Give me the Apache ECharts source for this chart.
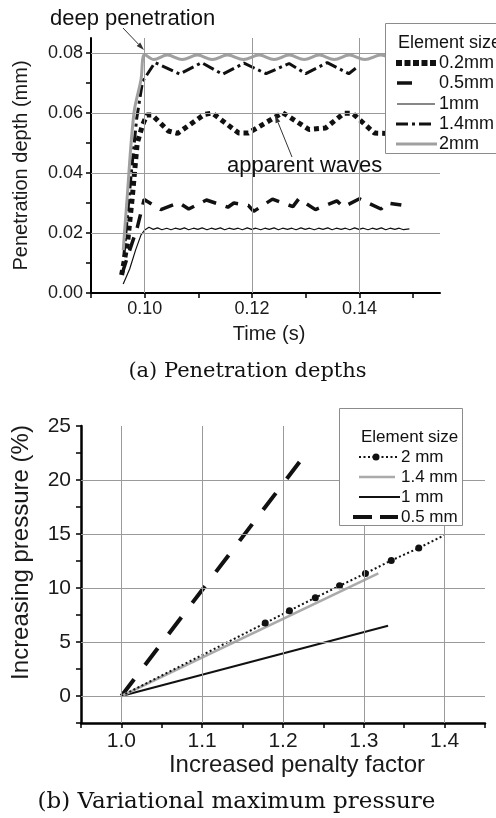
<!DOCTYPE html>
<html>
<head>
<meta charset="utf-8">
<script src="https://cdn.jsdelivr.net/npm/echarts@6/dist/echarts.min.js"></script>
<style>
  html, body { margin: 0; padding: 0; background: #fff; }
  #chart { width: 496px; height: 818px; }
</style>
</head>
<body>
<div id="chart"></div>
<script>
// ---------- (a) penetration depth (mm) against time (s) ----------
const timeTicks = [0.09, 0.10, 0.11, 0.12, 0.13, 0.14, 0.15];
const timeLabels = [0.10, 0.12, 0.14];
const depthTicks = [0, 0.01, 0.02, 0.03, 0.04, 0.05, 0.06, 0.07, 0.08];
const depthLabels = [0, 0.02, 0.04, 0.06, 0.08];

const depth02mm = [
  [0.0957, 0.0060], [0.0968, 0.0166], [0.0977, 0.0321], [0.0986, 0.0499], [0.0996, 0.0560],
  [0.1004, 0.0593], [0.1014, 0.0593], [0.1044, 0.0540], [0.1061, 0.0532], [0.1111, 0.0595],
  [0.1126, 0.0600], [0.1175, 0.0533], [0.1193, 0.0533], [0.1257, 0.0601], [0.1306, 0.0545],
  [0.1337, 0.0550], [0.1371, 0.0599], [0.1387, 0.0599], [0.1428, 0.0533], [0.1490, 0.0530]
];
const depth05mm = [
  [0.0958, 0.0065], [0.0968, 0.0121], [0.0986, 0.0217], [0.0999, 0.0312], [0.1030, 0.0278],
  [0.1064, 0.0301], [0.1082, 0.0280], [0.1115, 0.0310], [0.1155, 0.0286], [0.1166, 0.0300],
  [0.1193, 0.0292], [0.1203, 0.0272], [0.1238, 0.0313], [0.1276, 0.0288], [0.1287, 0.0314],
  [0.1318, 0.0278], [0.1358, 0.0307], [0.1370, 0.0287], [0.1400, 0.0314], [0.1440, 0.0280],
  [0.1452, 0.0300], [0.1478, 0.0293]
];
const depth1mm = [
  [0.0960, 0.0030], [0.0972, 0.0080], [0.0983, 0.0143], [0.0993, 0.0193], [0.1000, 0.0210],
  [0.1008, 0.0219], [0.1016, 0.0212], [0.1024, 0.0217], [0.1032, 0.0211], [0.1041, 0.0216],
  [0.1049, 0.0211], [0.1057, 0.0216], [0.1066, 0.0212], [0.1074, 0.0217], [0.1082, 0.0211],
  [0.1091, 0.0216], [0.1099, 0.0212], [0.1107, 0.0217], [0.1116, 0.0211], [0.1124, 0.0216],
  [0.1132, 0.0212], [0.1141, 0.0217], [0.1149, 0.0211], [0.1157, 0.0216], [0.1166, 0.0212],
  [0.1174, 0.0216], [0.1182, 0.0211], [0.1191, 0.0217], [0.1199, 0.0212], [0.1207, 0.0216],
  [0.1216, 0.0211], [0.1224, 0.0216], [0.1232, 0.0212], [0.1241, 0.0217], [0.1249, 0.0211],
  [0.1257, 0.0216], [0.1266, 0.0212], [0.1274, 0.0216], [0.1282, 0.0211], [0.1291, 0.0217],
  [0.1299, 0.0212], [0.1307, 0.0216], [0.1316, 0.0211], [0.1324, 0.0216], [0.1332, 0.0212],
  [0.1341, 0.0217], [0.1349, 0.0211], [0.1357, 0.0216], [0.1366, 0.0212], [0.1374, 0.0216],
  [0.1382, 0.0211], [0.1391, 0.0217], [0.1399, 0.0212], [0.1407, 0.0216], [0.1416, 0.0211],
  [0.1424, 0.0216], [0.1432, 0.0212], [0.1441, 0.0217], [0.1449, 0.0211], [0.1457, 0.0216],
  [0.1466, 0.0212], [0.1474, 0.0216], [0.1482, 0.0211], [0.1493, 0.0214]
];
const depth14mm = [
  [0.0961, 0.0120], [0.0975, 0.0400], [0.0985, 0.0580], [0.0996, 0.0705], [0.1019, 0.0768],
  [0.1065, 0.0730], [0.1106, 0.0768], [0.1145, 0.0729], [0.1185, 0.0766], [0.1226, 0.0731],
  [0.1269, 0.0765], [0.1300, 0.0731], [0.1340, 0.0768], [0.1380, 0.0731], [0.1393, 0.0749]
];
const depth2mm = [
  [0.0960, 0.0143], [0.0967, 0.0310], [0.0980, 0.0600], [0.0993, 0.0710], [0.1000, 0.0795],
  [0.1017, 0.0778], [0.1042, 0.0793], [0.1070, 0.0778], [0.1098, 0.0793], [0.1126, 0.0778],
  [0.1154, 0.0793], [0.1184, 0.0778], [0.1213, 0.0793], [0.1241, 0.0778], [0.1269, 0.0793],
  [0.1297, 0.0778], [0.1325, 0.0793], [0.1353, 0.0778], [0.1381, 0.0793], [0.1410, 0.0778],
  [0.1440, 0.0793], [0.1468, 0.0778], [0.1490, 0.0790]
];

// ---------- (b) increasing pressure (%) against penalty factor ----------
const factorTicks = [0.95, 1.0, 1.05, 1.1, 1.15, 1.2, 1.25, 1.3, 1.35, 1.4, 1.45];
const factorLabels = [1.0, 1.1, 1.2, 1.3, 1.4];
const pressureTicks = [-2.5, 0, 2.5, 5, 7.5, 10, 12.5, 15, 17.5, 20, 22.5, 25];
const pressureLabels = [0, 5, 10, 15, 20, 25];

const factor2mm = [1.0, 1.178, 1.208, 1.240, 1.270, 1.302, 1.334, 1.368, 1.400];
const pressure2mm = [0, 6.75, 7.9, 9.1, 10.2, 11.35, 12.55, 13.7, 14.9];
const factor14mm = [1.0, 1.318];
const pressure14mm = [0, 11.35];
const factor1mm = [1.0, 1.330];
const pressure1mm = [0, 6.5];
const factor05mm = [1.0, 1.230];
const pressure05mm = [0, 22.6];

const FONT = '"Liberation Sans", Arial, sans-serif';
const SERIF = '"DejaVu Serif", serif';
const INK = '#111';
const GRID = '#9a9a9a';

const zip = (xs, ys) => xs.map((x, i) => [x, ys[i]]);

// gridlines only at the labelled values, as in the figure
function gridLines(idx, xs, ys) {
  return {
    type: 'line', xAxisIndex: idx, yAxisIndex: idx, data: [], z: 1, silent: true,
    markLine: {
      silent: true, symbol: 'none', animation: false,
      label: { show: false },
      lineStyle: { color: GRID, width: 1, type: 'solid' },
      emphasis: { disabled: true },
      data: xs.map(v => ({ xAxis: v })).concat(ys.map(v => ({ yAxis: v })))
    }
  };
}

function axisBase(width) {
  return {
    type: 'value',
    axisLine: { onZero: false, lineStyle: { color: '#000', width: width } },
    splitLine: { show: false }
  };
}

function arrow(x1, y1, x2, y2) {
  const dx = x2 - x1, dy = y2 - y1;
  const len = Math.sqrt(dx * dx + dy * dy);
  const ux = dx / len, uy = dy / len;
  const bx = x2 - ux * 8, by = y2 - uy * 8;
  return [
    { type: 'line', z: 50, shape: { x1: x1, y1: y1, x2: bx, y2: by }, style: { stroke: '#333', lineWidth: 1 } },
    { type: 'polygon', z: 50, shape: { points: [[x2, y2], [bx - uy * 2.5, by + ux * 2.5], [bx + uy * 2.5, by - ux * 2.5]] }, style: { fill: '#333' } }
  ];
}

function txt(text, x, y, size, opts) {
  return Object.assign({
    type: 'text', z: 101, x: x, y: y,
    style: {
      text: text, font: size + 'px ' + FONT, fill: INK,
      align: 'left', verticalAlign: 'middle', textAlign: 'left', textVerticalAlign: 'middle'
    }
  }, opts || {});
}

function sample(x1, x2, y, style) {
  return { type: 'line', z: 101, shape: { x1: x1, y1: y, x2: x2, y2: y }, style: style };
}

const chart = echarts.init(document.getElementById('chart'), null, { renderer: 'canvas' });

const option = {
  animation: false,
  backgroundColor: '#fff',
  grid: [
    { left: 91, top: 38, width: 349, height: 255 },
    { left: 81, top: 426, width: 404, height: 297 }
  ],
  xAxis: [
    Object.assign(axisBase(2), {
      gridIndex: 0, min: 0.09, max: 0.155,
      axisTick: { customValues: timeTicks, length: 5, lineStyle: { color: '#000', width: 1.5 } },
      axisLabel: { customValues: timeLabels, formatter: v => v.toFixed(2), fontSize: 18, fontFamily: FONT, color: '#1a1a1a', margin: 7 },
      name: 'Time (s)', nameLocation: 'middle', nameGap: 31,
      nameTextStyle: { fontSize: 20, fontFamily: FONT, color: '#1a1a1a', padding: [0, 0, 0, 7] }
    }),
    Object.assign(axisBase(2.5), {
      gridIndex: 1, min: 0.95, max: 1.45,
      axisTick: { customValues: factorTicks, length: 5, lineStyle: { color: '#000', width: 1.5 } },
      axisLabel: { customValues: factorLabels, formatter: v => v.toFixed(1), fontSize: 21, fontFamily: FONT, color: '#1a1a1a', margin: 8 },
      name: 'Increased penalty factor', nameLocation: 'middle', nameGap: 30,
      nameTextStyle: { fontSize: 24, fontFamily: FONT, color: '#1a1a1a', padding: [0, 0, 0, 28] }
    })
  ],
  yAxis: [
    Object.assign(axisBase(2), {
      gridIndex: 0, min: 0, max: 0.085,
      axisTick: { customValues: depthTicks, length: 5, lineStyle: { color: '#000', width: 1.5 } },
      axisLabel: { customValues: depthLabels, formatter: v => v.toFixed(2), fontSize: 18, fontFamily: FONT, color: '#1a1a1a', margin: 8 },
      name: 'Penetration depth (mm)', nameLocation: 'middle', nameGap: 60,
      nameTextStyle: { fontSize: 20, fontFamily: FONT, color: '#1a1a1a' }
    }),
    Object.assign(axisBase(2.5), {
      gridIndex: 1, min: -2.5, max: 25,
      axisTick: { customValues: pressureTicks, length: 5, lineStyle: { color: '#000', width: 1.5 } },
      axisLabel: { customValues: pressureLabels, formatter: v => String(v), fontSize: 21, fontFamily: FONT, color: '#1a1a1a', margin: 10 },
      name: 'Increasing pressure (%)', nameLocation: 'middle', nameGap: 48,
      nameTextStyle: { fontSize: 24, fontFamily: FONT, color: '#1a1a1a', padding: [0, 0, 0, 44] }
    })
  ],
  series: [
    gridLines(0, timeLabels, [0.02, 0.04, 0.06, 0.08]),
    { name: '0.2mm', type: 'line', xAxisIndex: 0, yAxisIndex: 0, data: depth02mm, symbol: 'none', z: 3,
      lineStyle: { color: INK, width: 5, type: [5, 4] } },
    { name: '0.5mm', type: 'line', xAxisIndex: 0, yAxisIndex: 0, data: depth05mm, symbol: 'none', z: 3,
      lineStyle: { color: INK, width: 3.5, type: [14, 10] } },
    { name: '1mm', type: 'line', xAxisIndex: 0, yAxisIndex: 0, data: depth1mm, symbol: 'none', z: 3,
      lineStyle: { color: INK, width: 1.2 } },
    { name: '1.4mm', type: 'line', xAxisIndex: 0, yAxisIndex: 0, data: depth14mm, symbol: 'none', z: 3,
      lineStyle: { color: INK, width: 3, type: [12, 4, 3, 4] } },
    { name: '2mm', type: 'line', xAxisIndex: 0, yAxisIndex: 0, data: depth2mm, symbol: 'none', z: 4, smooth: 0.35,
      lineStyle: { color: '#a0a0a0', width: 3 } },

    gridLines(1, factorLabels, [0, 5, 10, 15, 20]),
    { name: '0.5 mm', type: 'line', xAxisIndex: 1, yAxisIndex: 1, data: zip(factor05mm, pressure05mm), symbol: 'none', z: 3,
      lineStyle: { color: INK, width: 4, type: [21, 18] } },
    { name: '1 mm', type: 'line', xAxisIndex: 1, yAxisIndex: 1, data: zip(factor1mm, pressure1mm), symbol: 'none', z: 3,
      lineStyle: { color: INK, width: 2 } },
    { name: '1.4 mm', type: 'line', xAxisIndex: 1, yAxisIndex: 1, data: zip(factor14mm, pressure14mm), symbol: 'none', z: 3,
      lineStyle: { color: '#aaaaaa', width: 2.5 } },
    { name: '2 mm', type: 'line', xAxisIndex: 1, yAxisIndex: 1, z: 4,
      data: factor2mm.map((x, i) => ({
        value: [x, pressure2mm[i]],
        symbol: (i === 0 || i === factor2mm.length - 1) ? 'none' : 'circle'
      })),
      symbol: 'circle', symbolSize: 7, showSymbol: true,
      itemStyle: { color: INK },
      lineStyle: { color: INK, width: 2, type: [2, 2.5] } }
  ],
  graphic: [
    // legend (a)
    { type: 'rect', z: 100, shape: { x: 385.5, y: 23.5, width: 130, height: 130 },
      style: { fill: '#fff', stroke: '#8c8c8c', lineWidth: 1 } },
    txt('Element size', 398, 43, 18),
    sample(396, 437, 63, { stroke: INK, lineWidth: 6, lineDash: [6, 2.5] }),
    txt('0.2mm', 439, 63, 18),
    sample(397, 412, 83, { stroke: INK, lineWidth: 3.5 }),
    txt('0.5mm', 439, 83, 18),
    sample(397, 435, 104, { stroke: INK, lineWidth: 1.2 }),
    txt('1mm', 439, 104, 18),
    sample(396, 432, 124, { stroke: INK, lineWidth: 3, lineDash: [12, 4, 3, 4] }),
    txt('1.4mm', 439, 124, 18),
    sample(396, 437, 144, { stroke: '#a0a0a0', lineWidth: 3 }),
    txt('2mm', 439, 144, 18),

    // legend (b)
    { type: 'rect', z: 100, shape: { x: 339.5, y: 408.5, width: 123, height: 117 },
      style: { fill: '#fff', stroke: '#8c8c8c', lineWidth: 1 } },
    txt('Element size', 361, 437, 17),
    sample(359, 397, 457, { stroke: INK, lineWidth: 2, lineDash: [2, 2.5] }),
    { type: 'circle', z: 102, shape: { cx: 376, cy: 457, r: 3.5 }, style: { fill: INK } },
    txt('2 mm', 401, 457, 17),
    sample(359, 395, 477, { stroke: '#aaaaaa', lineWidth: 2.5 }),
    txt('1.4 mm', 401, 477, 17),
    sample(359, 400, 497, { stroke: INK, lineWidth: 2 }),
    txt('1 mm', 401, 497, 17),
    sample(353, 398, 517, { stroke: INK, lineWidth: 4, lineDash: [19, 8] }),
    txt('0.5 mm', 401, 517, 17),

    // annotations
    txt('deep penetration', 50, 19, 22, { z: 60 }),
    ...arrow(123, 28, 144, 50),
    txt('apparent waves', 227, 166, 22, { z: 60 }),
    ...arrow(292, 157, 275, 115),

    // captions
    { type: 'text', z: 60, x: 247.5, y: 372,
      style: { text: '(a) Penetration depths', font: '21px ' + SERIF, fill: INK,
        align: 'center', verticalAlign: 'middle', textAlign: 'center', textVerticalAlign: 'middle' } },
    { type: 'text', z: 60, x: 236.5, y: 802,
      style: { text: '(b) Variational maximum pressure', font: '23px ' + SERIF, fill: INK,
        align: 'center', verticalAlign: 'middle', textAlign: 'center', textVerticalAlign: 'middle' } }
  ]
};

chart.setOption(option);
</script>
</body>
</html>
